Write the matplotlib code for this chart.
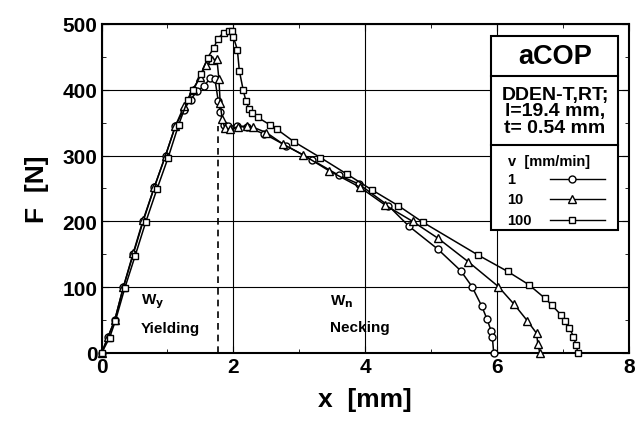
import matplotlib
matplotlib.use("Agg")
import matplotlib.pyplot as plt
from matplotlib.lines import Line2D
from matplotlib.patches import Rectangle

plt.rcParams['font.family'] = ['Liberation Sans', 'DejaVu Sans']
plt.rcParams['font.weight'] = 'bold'

# v = 1 mm/min (circles)
x_v1 = [0, 0.1, 0.2, 0.33, 0.48, 0.63, 0.8, 0.97, 1.12, 1.25, 1.35, 1.45, 1.55, 1.65, 1.72,
        1.77, 1.80, 1.85, 1.92, 2.05, 2.2, 2.47, 2.8, 3.2, 3.6, 3.9, 4.35, 4.66, 5.10, 5.45,
        5.62, 5.77, 5.85, 5.91, 5.93, 5.95]
f_v1 = [0, 25, 50, 100, 150, 200, 252, 300, 345, 370, 385, 398, 405, 418, 416,
        383, 366, 347, 345, 345, 343, 333, 315, 293, 270, 257, 224, 193, 158, 125,
        101, 71, 51, 34, 24, 0]

# v = 10 mm/min (triangles)
x_v10 = [0, 0.1, 0.2, 0.33, 0.48, 0.63, 0.8, 0.97, 1.12, 1.25, 1.38, 1.5, 1.58, 1.68, 1.75,
         1.78, 1.80, 1.83, 1.87, 1.95, 2.07, 2.20, 2.30, 2.50, 2.76, 3.06, 3.45, 3.92, 4.30,
         4.72, 5.11, 5.56, 6.02, 6.26, 6.46, 6.60, 6.62, 6.65]
f_v10 = [0, 25, 50, 100, 152, 202, 252, 300, 345, 375, 400, 420, 437, 445, 447,
         416, 380, 355, 342, 340, 344, 345, 343, 335, 317, 301, 277, 252, 225,
         200, 174, 139, 101, 74, 49, 30, 14, 0]

# v = 100 mm/min (squares)
x_v100 = [0, 0.12, 0.21, 0.35, 0.51, 0.67, 0.84, 1.01, 1.17, 1.31, 1.39, 1.51, 1.61, 1.70, 1.76,
          1.85, 1.93, 1.98, 2.0, 2.06, 2.09, 2.15, 2.19, 2.24, 2.28, 2.37, 2.55, 2.66, 2.92,
          3.32, 3.72, 4.10, 4.50, 4.87, 5.71, 6.16, 6.48, 6.73, 6.83, 6.97, 7.03, 7.10, 7.16,
          7.20, 7.23]
f_v100 = [0, 23, 49, 98, 148, 199, 249, 297, 347, 385, 399, 424, 449, 463, 477,
          487, 490, 490, 480, 461, 429, 399, 383, 371, 365, 358, 347, 340, 321,
          297, 272, 248, 224, 199, 149, 124, 104, 83, 73, 58, 49, 38, 25,
          12, 0]

x_yield = 1.76   # border between yielding and necking
f_yield = 345

fig = plt.figure(figsize=(6.39, 4.27), dpi=100)
ax = fig.add_axes([0.159, 0.171, 0.825, 0.7705])

mk = dict(color='black', lw=1.1, mfc='white', mec='black', mew=1.0, clip_on=False, zorder=3)
ax.plot(x_v1, f_v1, marker='o', ms=5, **mk)
ax.plot(x_v10, f_v10, marker='^', ms=5.8, **mk)
ax.plot(x_v100, f_v100, marker='s', ms=5, **mk)

ax.plot([x_yield, x_yield], [0, f_yield], color='black', lw=1.2, ls=(0, (4, 3)))

ax.set_xlim(0, 8)
ax.set_ylim(0, 500)
ax.set_xticks([0, 2, 4, 6, 8])
ax.set_yticks([0, 100, 200, 300, 400, 500])
ax.set_xticks([1, 3, 5, 7], minor=True)
ax.set_yticks([50, 150, 250, 350, 450], minor=True)
ax.grid(True, which='major', color='black', lw=0.8)
ax.tick_params(which='both', direction='in', top=True, right=True, labelsize=15, pad=3)
ax.tick_params(which='major', length=5)
ax.tick_params(which='minor', length=3)
for s in ax.spines.values():
    s.set_linewidth(1.5)

ax.set_xlabel('x  [mm]', fontsize=19, fontweight='bold', labelpad=8)
ax.set_ylabel('F  [N]', fontsize=19, fontweight='bold', labelpad=10)

ax.text(0.6, 75, r'W$_\mathbf{y}$', fontsize=11, fontweight='bold')
ax.text(0.6, 32, 'Yielding', fontsize=11, fontweight='bold')
ax.text(3.47, 74, r'W$_\mathbf{n}$', fontsize=11, fontweight='bold')
ax.text(3.47, 33, 'Necking', fontsize=11, fontweight='bold')

# inset legend table
tr = ax.transAxes
bl, br, bt, bb = 0.739, 0.979, 0.9635, 0.374
ax.add_patch(Rectangle((bl, bb), br - bl, bt - bb, transform=tr, fc='white', ec='black',
                       lw=1.5, zorder=5))
for yy in [0.842, 0.632]:
    ax.add_line(Line2D([bl, br], [yy, yy], transform=tr, color='black', lw=1.5, zorder=6))
ax.text(0.86, 0.903, 'aCOP', transform=tr, ha='center', va='center', fontsize=19.5, zorder=7)
ax.text(0.86, 0.736, 'DDEN-T,RT;\nl=19.4 mm,\nt= 0.54 mm', transform=tr, ha='center',
        va='center', fontsize=14, linespacing=0.95, zorder=7)
ax.text(0.770, 0.584, 'v  [mm/min]', transform=tr, ha='left', va='center', fontsize=10.5, zorder=7)
for lab, m, yy, s in [('1', 'o', 0.530, 5), ('10', '^', 0.467, 5.8), ('100', 's', 0.404, 5)]:
    ax.text(0.770, yy, lab, transform=tr, ha='left', va='center', fontsize=10.5, zorder=7)
    ax.add_line(Line2D([0.85, 0.955], [yy, yy], transform=tr, color='black', lw=1.0, zorder=7))
    ax.add_line(Line2D([0.8925], [yy], transform=tr, marker=m, ms=s, mfc='white', mec='black',
                       mew=1.0, zorder=8))

fig.savefig('out.png', dpi=100)
